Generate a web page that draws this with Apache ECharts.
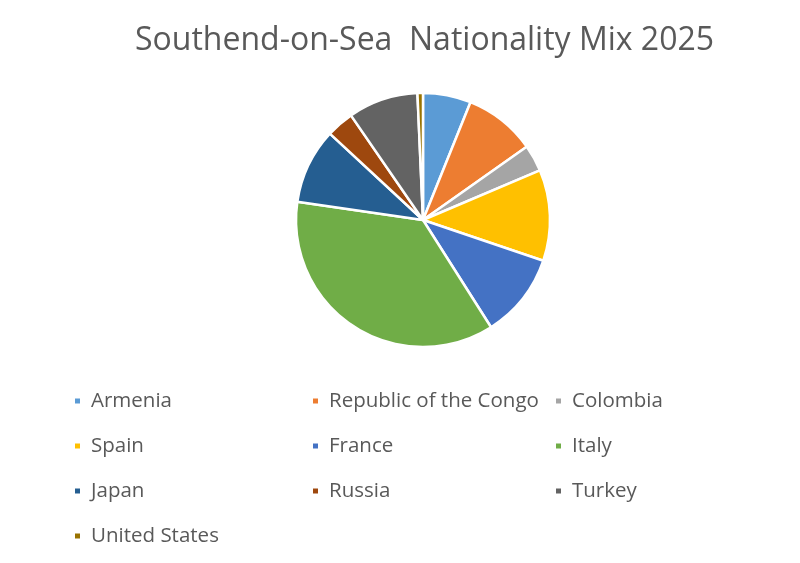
<!DOCTYPE html>
<html>
<head>
<meta charset="utf-8">
<script src="https://cdn.jsdelivr.net/npm/echarts@6/dist/echarts.min.js"></script>
<style>
html,body{margin:0;padding:0;background:#fff;}
#chart{width:800px;height:563px;}
</style>
</head>
<body>
<div id="chart"></div>
<script>
var categories = ['Armenia','Republic of the Congo','Colombia','Spain','France','Italy','Japan','Russia','Turkey','United States'];
var values = [6.1, 9.1, 3.4, 11.6, 10.8, 36.3, 9.6, 3.5, 8.9, 0.7];
var colors = ['#5B9BD5','#ED7D31','#A5A5A5','#FFC000','#4472C4','#70AD47','#255E91','#9E480E','#636363','#997300'];
var legendCol1 = ['Armenia','Spain','Japan','United States'];
var legendCol2 = ['Republic of the Congo','France','Russia'];
var legendCol3 = ['Colombia','Italy','Turkey'];

var chart = echarts.init(document.getElementById('chart'), null, {renderer:'canvas'});
var font = 'Open Sans';
function legend(col, left){
  return {
    data: col, orient:'vertical', left: left, top: 385,
    icon:'rect', itemWidth:7, itemHeight:7, itemGap:23,
    textStyle:{fontFamily:font, fontSize:20.5, color:'#595959', lineHeight:22, padding:[0,0,0,5]},
    selectedMode:false
  };
}
chart.setOption({
  animation:false,
  color: colors,
  title:{
    text:'Southend-on-Sea  Nationality Mix 2025',
    left:130, top:20,
    textStyle:{fontFamily:font, fontSize:32, fontWeight:'normal', color:'#595959'}
  },
  legend:[legend(legendCol1, 68), legend(legendCol2, 306), legend(legendCol3, 549)],
  series:[{
    type:'pie',
    center:[423,220],
    radius:127,
    startAngle:90,
    clockwise:true,
    label:{show:false},
    labelLine:{show:false},
    itemStyle:{borderColor:'#fff', borderWidth:2.5},
    emphasis:{disabled:true},
    data: categories.map(function(c,i){return {name:c, value:values[i]};})
  }]
});
</script>
</body>
</html>
